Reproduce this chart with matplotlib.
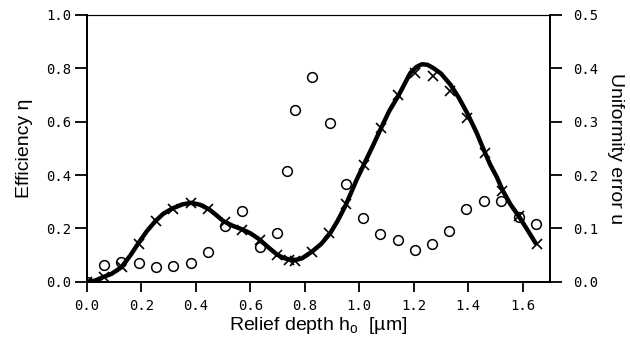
import matplotlib.pyplot as plt

plt.rcParams['font.family'] = ['Liberation Sans', 'DejaVu Sans']
plt.rcParams['mathtext.default'] = 'regular'

# theoretical efficiency curve (solid line)
curve_h = [0, 0.03, 0.06, 0.09, 0.127, 0.16, 0.189, 0.22, 0.25, 0.28, 0.314, 0.35,
           0.382, 0.415, 0.448, 0.475, 0.5, 0.535, 0.569, 0.6, 0.632, 0.665, 0.697,
           0.72, 0.746, 0.77, 0.789, 0.826, 0.86, 0.893, 0.92, 0.949, 0.99, 1.016,
           1.05, 1.08, 1.11, 1.145, 1.187, 1.21, 1.23, 1.25, 1.273, 1.30, 1.335,
           1.365, 1.396, 1.43, 1.457, 1.48, 1.506, 1.525, 1.555, 1.586, 1.62, 1.647]
curve_eta = [0, 0.005, 0.018, 0.03, 0.055, 0.1, 0.145, 0.19, 0.226, 0.255, 0.275, 0.29,
             0.296, 0.289, 0.272, 0.25, 0.228, 0.21, 0.197, 0.182, 0.16, 0.13, 0.103,
             0.09, 0.083, 0.083, 0.088, 0.113, 0.142, 0.182, 0.228, 0.285, 0.382, 0.438,
             0.51, 0.576, 0.64, 0.70, 0.782, 0.805, 0.815, 0.813, 0.80, 0.78, 0.738,
             0.69, 0.632, 0.56, 0.494, 0.44, 0.39, 0.345, 0.29, 0.245, 0.19, 0.145]

# measured efficiency (crosses)
cross_h = [0, 0.063, 0.127, 0.19, 0.254, 0.317, 0.381, 0.445, 0.508, 0.571, 0.635,
           0.698, 0.74, 0.765, 0.825, 0.889, 0.952, 1.016, 1.079, 1.143, 1.206, 1.27,
           1.333, 1.397, 1.46, 1.524, 1.587, 1.651]
cross_eta = [0, 0.018, 0.056, 0.143, 0.228, 0.272, 0.295, 0.272, 0.225, 0.195, 0.158,
             0.101, 0.082, 0.08, 0.113, 0.182, 0.29, 0.438, 0.576, 0.70, 0.782, 0.772,
             0.713, 0.613, 0.482, 0.342, 0.245, 0.14]

# uniformity error (circles)
circ_h = [0, 0.063, 0.125, 0.19, 0.254, 0.317, 0.381, 0.445, 0.508, 0.571, 0.635,
          0.698, 0.733, 0.765, 0.828, 0.891, 0.951, 1.013, 1.077, 1.141, 1.206, 1.267,
          1.331, 1.393, 1.457, 1.521, 1.586, 1.65]
circ_u = [0, 0.032, 0.037, 0.035, 0.028, 0.029, 0.036, 0.056, 0.105, 0.132, 0.066,
          0.091, 0.208, 0.321, 0.384, 0.298, 0.183, 0.119, 0.09, 0.079, 0.06, 0.071,
          0.096, 0.136, 0.152, 0.152, 0.122, 0.108]

xticks = [0.0, 0.2, 0.4, 0.6, 0.8, 1.0, 1.2, 1.4, 1.6]
yticks = [0.0, 0.2, 0.4, 0.6, 0.8, 1.0]
uticks = [0.0, 0.1, 0.2, 0.3, 0.4, 0.5]

fig = plt.figure(figsize=(6.3, 3.45), dpi=100)
ax = fig.add_axes([0.138, 0.183, 0.735, 0.774])
ax2 = ax.twinx()

ax.plot(curve_h, curve_eta, color='black', lw=3.2, solid_capstyle='round', zorder=3)
ax.plot(cross_h, cross_eta, 'x', color='black', ms=7.5, mew=1.2, zorder=4)
ax2.plot(circ_h, circ_u, 'o', mfc='none', mec='black', ms=7, mew=1.1, zorder=4)

ax.set_xlim(0, 1.7)
ax.set_ylim(0, 1.0)
ax2.set_ylim(0, 0.5)
ax.set_xticks(xticks)
ax.set_xticklabels([f'{v:.1f}' for v in xticks])
ax.set_yticks(yticks)
ax.set_yticklabels([f'{v:.1f}' for v in yticks])
ax2.set_yticks(uticks)
ax2.set_yticklabels([f'{v:.1f}' for v in uticks])

tick_font = {'family': 'DejaVu Sans Mono', 'size': 10}
for a in (ax, ax2):
    a.tick_params(direction='out', width=1.3, pad=3)
    for s in a.spines.values():
        s.set_linewidth(1.3)
    for lab in a.get_xticklabels() + a.get_yticklabels():
        lab.set_fontfamily(tick_font['family'])
        lab.set_fontsize(tick_font['size'])
ax.tick_params(axis='y', length=8.5)
ax.tick_params(axis='x', length=7, pad=5)
ax2.tick_params(axis='y', length=8.5, pad=8)
ax.spines['top'].set_linewidth(0.8)
ax2.spines['top'].set_linewidth(0.8)

ax.set_xlabel('Relief depth h$_{o}$  [\u00b5m]', fontsize=14, labelpad=2)
ax.set_ylabel('Efficiency \u03b7', fontsize=14, labelpad=9)
ax2.set_ylabel('Uniformity error u', fontsize=14, rotation=270, labelpad=19)

fig.savefig('out.png', dpi=100)
